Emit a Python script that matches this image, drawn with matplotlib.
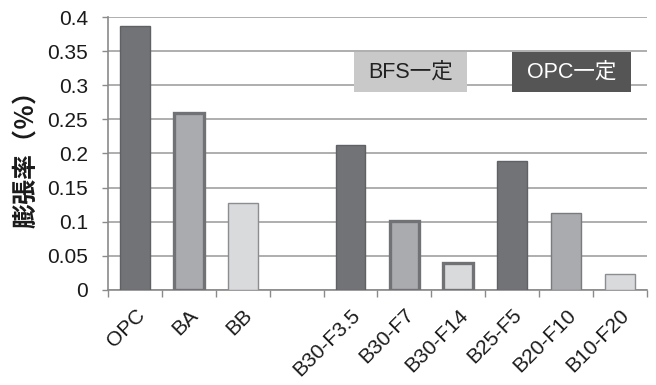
import matplotlib
matplotlib.use("Agg")
import matplotlib.pyplot as plt
from matplotlib.patches import Rectangle
import numpy as np

categories = ["OPC", "BA", "BB", "", "B30-F3.5", "B30-F7", "B30-F14",
              "B25-F5", "B20-F10", "B10-F20"]
values = [0.387, 0.259, 0.127, np.nan, 0.212, 0.101, 0.040, 0.189, 0.113, 0.024]
shade = ["dark", "mid", "light", None, "dark", "mid", "light", "dark", "mid", "light"]
thick_edge = [False, True, False, False, False, True, True, False, False, False]

fills = {"dark": "#727377", "mid": "#aaabaf", "light": "#d9dadc"}
edges = {"dark": "#606165", "mid": "#7a7b7f", "light": "#8c8d90"}

plt.rcParams["font.family"] = ["Liberation Sans", "Noto Sans CJK JP", "DejaVu Sans"]

fig = plt.figure(figsize=(6.56, 3.85), dpi=100)
ax = fig.add_axes([0.1646, 0.2468, 0.8214, 0.709])

x = np.arange(len(categories))
for i in range(len(categories)):
    if shade[i] is None:
        continue
    lw = 2.4 if thick_edge[i] else 1.0
    ec = "#717276" if thick_edge[i] else edges[shade[i]]
    ax.bar(x[i], values[i], width=0.55, color=fills[shade[i]],
           edgecolor=ec, linewidth=lw, zorder=3)

ax.set_xlim(-0.5, len(categories) - 0.5)
ax.set_ylim(0, 0.4)
ax.set_yticks(np.arange(0, 0.401, 0.05))
ax.set_yticklabels(["0", "0.05", "0.1", "0.15", "0.2", "0.25", "0.3", "0.35", "0.4"],
                   fontsize=15, color="#1a1a1a")
ax.yaxis.grid(True, color="#a8a8a8", linewidth=1.3, zorder=0)
ax.set_axisbelow(True)

# category boundary ticks on the x axis, labels centred in each slot
ax.set_xticks(np.arange(-0.5, len(categories), 1.0))
ax.set_xticklabels([])
ax.set_xticks(x, minor=True)
ax.set_xticklabels(categories, minor=True, rotation=45, ha="right",
                   rotation_mode="anchor", fontsize=15, color="#1a1a1a")
ax.tick_params(axis="x", which="major", length=5, color="#8a8a8a", width=1)
ax.tick_params(axis="x", which="minor", length=0, pad=11)
ax.tick_params(axis="y", length=4.5, color="#8a8a8a", width=1, pad=10)

for s in ["top", "right"]:
    ax.spines[s].set_visible(False)
for s in ["left", "bottom"]:
    ax.spines[s].set_color("#8a8a8a")
    ax.spines[s].set_linewidth(1.2)

ax.set_ylabel("膨張率（％）", fontsize=18, fontweight="bold", color="#1a1a1a",
              family=["Noto Sans CJK JP", "DejaVu Sans"], labelpad=6)

# group captions
def caption(x0, x1, y0, y1, text, fc, tc):
    ax.add_patch(Rectangle((x0, y0), x1 - x0, y1 - y0, facecolor=fc,
                           edgecolor="none", zorder=5))
    ax.text((x0 + x1) / 2, (y0 + y1) / 2, text, ha="center", va="center",
            fontsize=15.5, color=tc, zorder=6,
            family=["Liberation Sans", "Noto Sans CJK JP"])

caption(4.06, 6.16, 0.290, 0.349, "BFS一定", "#c9c9c9", "#222222")
caption(7.00, 9.20, 0.290, 0.349, "OPC一定", "#555555", "white")

fig.savefig("out.png", dpi=100)
